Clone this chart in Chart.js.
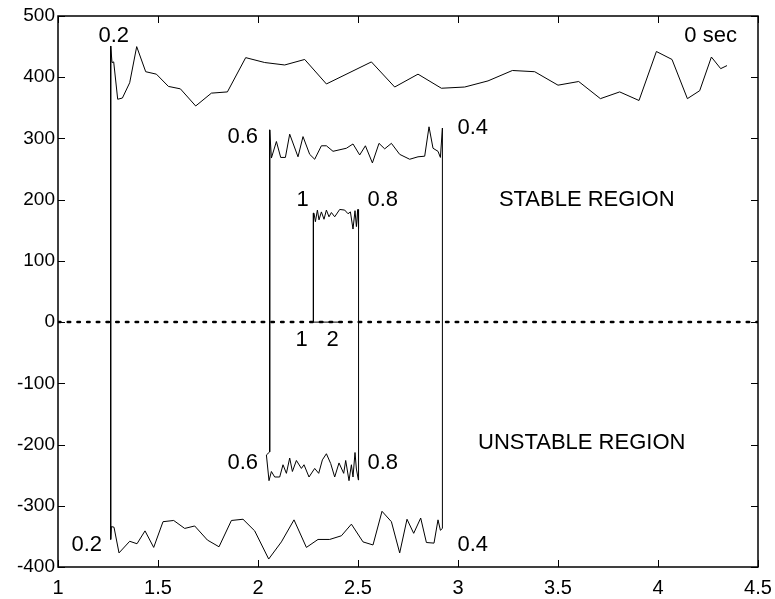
<!DOCTYPE html>
<html>
<head>
<meta charset="utf-8">
<script src="https://cdn.jsdelivr.net/npm/chart.js@4.4.0/dist/chart.umd.min.js"></script>
<style>
  html, body { margin: 0; padding: 0; background: #fff; }
</style>
</head>
<body>
<canvas id="stabChart" width="775" height="599"></canvas>
<script>
// axis ticks
var xTicks = [1, 1.5, 2, 2.5, 3, 3.5, 4, 4.5];
var yTicks = [-400, -300, -200, -100, 0, 100, 200, 300, 400, 500];

// 0 sec curve (top)
var topX = [1.2635, 1.27, 1.2785, 1.2985, 1.322, 1.3585, 1.3935, 1.4385, 1.492, 1.552,
  1.612, 1.6885, 1.767, 1.847, 1.9385, 2.0335, 2.1335, 2.2335, 2.342, 2.567,
  2.6835, 2.80, 2.917, 3.0335, 3.15, 3.272, 3.3835, 3.50, 3.6035, 3.712,
  3.8085, 3.905, 3.992, 4.07, 4.147, 4.2085, 4.267, 4.3135, 4.345];
var topY = [451, 424, 425, 364, 366, 391, 450, 409, 405, 385,
  381, 353, 374, 376, 432, 424, 420, 429, 389, 425,
  384, 405, 382, 384, 394, 411, 409, 387, 393, 365,
  376, 362, 442, 429, 365, 378, 433, 414, 419];

// 0.2 -> 0.4 curve (bottom)
var lowX = [1.2635, 1.267, 1.28, 1.305, 1.3585, 1.395, 1.435, 1.4785, 1.525, 1.5785,
  1.6335, 1.6835, 1.747, 1.805, 1.867, 1.925, 1.9835, 2.0535, 2.117, 2.18,
  2.242, 2.30, 2.3585, 2.417, 2.467, 2.525, 2.575, 2.62, 2.667, 2.7085,
  2.745, 2.7785, 2.8135, 2.842, 2.88, 2.90, 2.912, 2.922];
var lowY = [-355, -334, -335, -377, -358, -362, -341, -368, -326, -324,
  -337, -333, -356, -367, -324, -322, -341, -387, -359, -323,
  -368, -355, -355, -349, -330, -359, -364, -309, -326, -377,
  -322, -345, -320, -360, -361, -323, -340, -337];

// 0.6 -> 0.4 curve (upper middle)
var midTopX = [2.0585, 2.067, 2.092, 2.1135, 2.137, 2.1585, 2.20, 2.225, 2.2585, 2.2835,
  2.317, 2.342, 2.375, 2.442, 2.475, 2.5085, 2.537, 2.572, 2.605, 2.6335,
  2.667, 2.7085, 2.7585, 2.80, 2.8335, 2.855, 2.875, 2.90, 2.912, 2.922];
var midTopY = [314, 268, 295, 269, 269, 307, 270, 303, 274, 266,
  288, 288, 279, 284, 291, 273, 288, 260, 292, 283,
  292, 274, 266, 270, 271, 319, 284, 279, 269, 317];

// 0.6 -> 0.8 curve (lower middle)
var midLowX = [2.0585, 2.042, 2.055, 2.067, 2.0835, 2.1085, 2.125, 2.142, 2.1585, 2.172,
  2.192, 2.217, 2.23, 2.255, 2.2835, 2.3035, 2.322, 2.342, 2.3635, 2.3835,
  2.405, 2.4285, 2.4385, 2.455, 2.467, 2.475, 2.485, 2.492, 2.502];
var midLowY = [-212, -217, -259, -244, -253, -253, -233, -247, -222, -244,
  -226, -239, -233, -253, -239, -247, -225, -215, -231, -253,
  -230, -247, -226, -259, -233, -253, -213, -240, -258];

// 1 -> 0.8 curve (inner)
var coreX = [2.277, 2.28, 2.287, 2.297, 2.305, 2.317, 2.33, 2.342, 2.355, 2.367,
  2.3835, 2.4085, 2.4335, 2.45, 2.462, 2.475, 2.485, 2.492, 2.4985, 2.5035, 2.502];
var coreY = [178, 178, 164, 183, 167, 180, 168, 183, 172, 179,
  172, 184, 183, 177, 180, 152, 182, 156, 184, 153, 184];

// 1 -> 2 sec, on the zero line
var tailX = [2.277, 2.41];
var tailY = [0, 0];

var zeroX = [1, 4.5];
var zeroY = [0, 0];

var notes = [
  { t: '0.2', x: 1.2785, y: 467 },
  { t: '0 sec', x: 4.263, y: 467 },
  { t: '0.6', x: 1.9235, y: 302 },
  { t: '0.4', x: 3.0735, y: 317 },
  { t: '1', x: 2.2235, y: 199 },
  { t: '0.8', x: 2.6235, y: 199 },
  { t: 'STABLE REGION', x: 3.6435, y: 199 },
  { t: '1', x: 2.2185, y: -29 },
  { t: '2', x: 2.3735, y: -29 },
  { t: 'UNSTABLE REGION', x: 3.6185, y: -197 },
  { t: '0.6', x: 1.9235, y: -230 },
  { t: '0.8', x: 2.6235, y: -230 },
  { t: '0.2', x: 1.1435, y: -364 },
  { t: '0.4', x: 3.0735, y: -364 }
];

function pts(xs, ys) {
  return xs.map(function (v, i) { return { x: v, y: ys[i] }; });
}

// one continuous path spiralling inwards
var spiral = [{ x: topX[0], y: topY[0] }].concat(
  pts(lowX, lowY),
  pts(midTopX, midTopY).reverse(),
  pts(midLowX, midLowY),
  pts(coreX, coreY).reverse(),
  pts(tailX, tailY)
);

var FONT = '"Liberation Sans", Arial, Helvetica, sans-serif';

var framePlugin = {
  id: 'frame',
  afterDatasetsDraw: function (chart) {
    var ctx = chart.ctx, a = chart.chartArea;
    var sx = chart.scales.x, sy = chart.scales.y;
    ctx.save();
    ctx.strokeStyle = '#000';
    ctx.lineWidth = 1.5;
    ctx.strokeRect(a.left, a.top, a.right - a.left, a.bottom - a.top);
    ctx.lineWidth = 1;
    ctx.beginPath();
    xTicks.forEach(function (v) {
      var p = Math.round(sx.getPixelForValue(v)) + 0.5;
      ctx.moveTo(p, a.bottom); ctx.lineTo(p, a.bottom - 7);
      ctx.moveTo(p, a.top); ctx.lineTo(p, a.top + 7);
    });
    yTicks.forEach(function (v) {
      var p = Math.round(sy.getPixelForValue(v)) + 0.5;
      ctx.moveTo(a.left, p); ctx.lineTo(a.left + 7, p);
      ctx.moveTo(a.right, p); ctx.lineTo(a.right - 7, p);
    });
    ctx.stroke();

    ctx.fillStyle = '#000';
    ctx.font = '22px ' + FONT;
    ctx.textAlign = 'center';
    ctx.textBaseline = 'middle';
    notes.forEach(function (n) {
      ctx.fillText(n.t, sx.getPixelForValue(n.x), sy.getPixelForValue(n.y));
    });
    ctx.restore();
  }
};

var ctx = document.getElementById('stabChart');

new Chart(ctx, {
  type: 'line',
  data: {
    datasets: [
      {
        data: pts(zeroX, zeroY),
        borderColor: '#000',
        borderWidth: 2.5,
        borderDash: [2.5, 7.2],
        borderCapStyle: 'round',
        pointRadius: 0
      },
      {
        data: pts(topX, topY),
        borderColor: '#000',
        borderWidth: 1,
        pointRadius: 0
      },
      {
        data: spiral,
        borderColor: '#000',
        borderWidth: 1,
        pointRadius: 0
      }
    ]
  },
  options: {
    responsive: false,
    animation: false,
    layout: { padding: { top: 16, right: 17, left: 0, bottom: 0 } },
    elements: { line: { tension: 0 } },
    plugins: {
      legend: { display: false },
      tooltip: { enabled: false }
    },
    scales: {
      x: {
        type: 'linear',
        min: 1,
        max: 4.5,
        afterBuildTicks: function (s) { s.ticks = xTicks.map(function (v) { return { value: v }; }); },
        afterFit: function (s) { s.height = 32; s.paddingLeft = 0; s.paddingRight = 0; },
        grid: { display: false, drawTicks: false },
        border: { display: false },
        ticks: {
          autoSkip: false, maxRotation: 0, padding: 9, color: '#000',
          font: { family: FONT, size: 20 },
          callback: function (v) { return String(v); }
        }
      },
      y: {
        type: 'linear',
        min: -400,
        max: 500,
        afterBuildTicks: function (s) { s.ticks = yTicks.map(function (v) { return { value: v }; }); },
        afterFit: function (s) { s.width = 58; s.paddingTop = 0; s.paddingBottom = 0; },
        grid: { display: false, drawTicks: false },
        border: { display: false },
        ticks: {
          autoSkip: false, padding: 3, color: '#000',
          font: { family: FONT, size: 19 },
          callback: function (v) { return String(v); }
        }
      }
    }
  },
  plugins: [framePlugin]
});
</script>
</body>
</html>
